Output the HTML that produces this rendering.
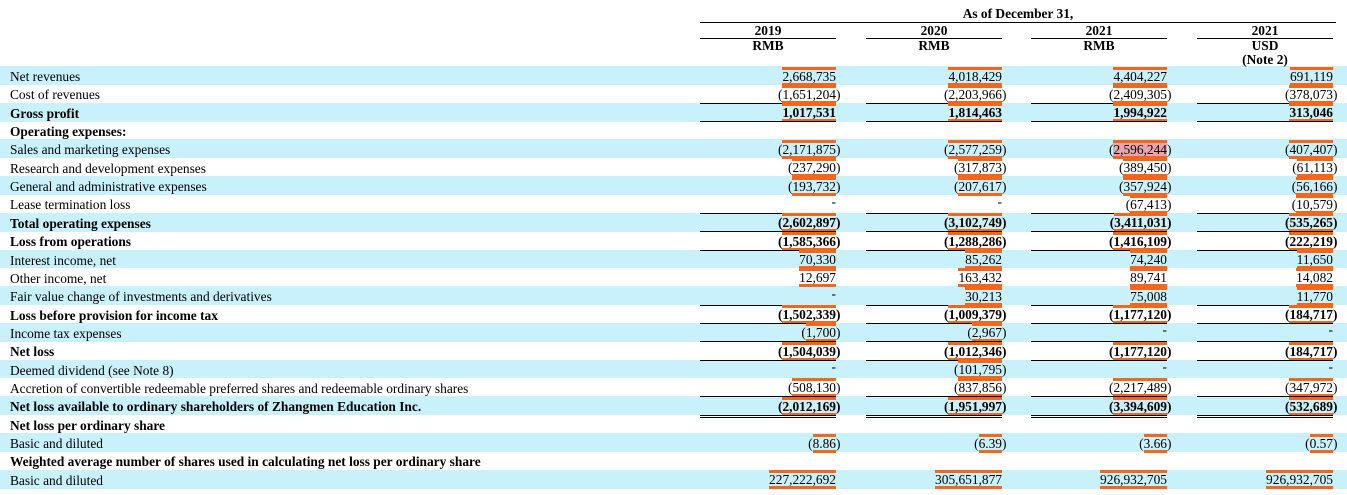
<!DOCTYPE html>
<html><head><meta charset="utf-8"><style>
body{margin:0;width:1347px;height:495px;background:#fff;position:relative;overflow:hidden;font-family:"Liberation Serif",serif;font-size:13.4px;color:#000}
.band{position:absolute;left:0;width:1347px;background:#c9f1fb}
.lab{position:absolute;left:10px;white-space:nowrap}
.n{position:absolute;white-space:nowrap;text-align:right;width:200px;line-height:13px}
.n span{border-top:3px solid #f4661b;border-bottom:3px solid #f4661b;line-height:13px;display:inline-block}
.n span.p{border:none}
.n span.pk{background:#eaa5ac}
.hl{position:absolute;height:1px;background:#000}
.h{position:absolute;font-weight:bold;text-align:center;width:136px;line-height:14px}
</style></head><body>
<div id="c"></div>
<div class="h" style="left:700px;width:636px;top:7px">As of December 31,</div>
<div class="hl" style="left:700px;width:636px;top:22px"></div>
<div class="h" style="left:700px;top:24px">2019</div>
<div class="h" style="left:866px;top:24px">2020</div>
<div class="h" style="left:1031px;top:24px">2021</div>
<div class="h" style="left:1197px;top:24px">2021</div>
<div class="h" style="left:700px;top:39px">RMB</div>
<div class="h" style="left:866px;top:39px">RMB</div>
<div class="h" style="left:1031px;top:39px">RMB</div>
<div class="h" style="left:1197px;top:39px">USD<br>(Note 2)</div>
<div class="hl" style="left:700px;width:136px;top:38px"></div>
<div class="hl" style="left:866px;width:136px;top:38px"></div>
<div class="hl" style="left:1031px;width:136px;top:38px"></div>
<div class="hl" style="left:1197px;width:136px;top:38px"></div>
<script>
const rows=[
["Net revenues",0,["2,668,735","4,018,429","4,404,227","691,119"]],
["Cost of revenues",0,["(1,651,204)","(2,203,966)","(2,409,305)","(378,073)"]],
["Gross profit",1,["1,017,531","1,814,463","1,994,922","313,046"]],
["Operating expenses:",1,null],
["Sales and marketing expenses",0,["(2,171,875)","(2,577,259)","(2,596,244)","(407,407)"]],
["Research and development expenses",0,["(237,290)","(317,873)","(389,450)","(61,113)"]],
["General and administrative expenses",0,["(193,732)","(207,617)","(357,924)","(56,166)"]],
["Lease termination loss",0,["-","-","(67,413)","(10,579)"]],
["Total operating expenses",1,["(2,602,897)","(3,102,749)","(3,411,031)","(535,265)"]],
["Loss from operations",1,["(1,585,366)","(1,288,286)","(1,416,109)","(222,219)"]],
["Interest income, net",0,["70,330","85,262","74,240","11,650"]],
["Other income, net",0,["12,697","163,432","89,741","14,082"]],
["Fair value change of investments and derivatives",0,["-","30,213","75,008","11,770"]],
["Loss before provision for income tax",1,["(1,502,339)","(1,009,379)","(1,177,120)","(184,717)"]],
["Income tax expenses",0,["(1,700)","(2,967)","-","-"]],
["Net loss",1,["(1,504,039)","(1,012,346)","(1,177,120)","(184,717)"]],
["Deemed dividend (see Note 8)",0,["-","(101,795)","-","-"]],
["Accretion of convertible redeemable preferred shares and redeemable ordinary shares",0,["(508,130)","(837,856)","(2,217,489)","(347,972)"]],
["Net loss available to ordinary shareholders of Zhangmen Education Inc.",1,["(2,012,169)","(1,951,997)","(3,394,609)","(532,689)"]],
["Net loss per ordinary share",1,null],
["Basic and diluted",0,["(8.86)","(6.39)","(3.66)","(0.57)"]],
["Weighted average number of shares used in calculating net loss per ordinary share",1,null],
["Basic and diluted",0,["227,222,692","305,651,877","926,932,705","926,932,705"]]];
const lines=[1,2,7,8,9,12,13,14,15,17];
const R=[836,1002,1167,1333],L=[700,866,1031,1197];
let h="";const T=66,H=18.35;
rows.forEach((r,i)=>{const y=T+i*H;
if(i%2==0)h+=`<div class="band" style="top:${y}px;height:${H+0.5}px"></div>`;});
rows.forEach((r,i)=>{const y=T+i*H;
h+=`<div class="lab" style="top:${y+3}px;${r[1]?'font-weight:bold':''}">${r[0]}</div>`;
if(r[2])r[2].forEach((v,k)=>{let inner,close="";const pk=(i==4&&k==2)?' class="pk"':'';
if(v=="-"){inner=`<span class="p">-</span>`}
else if(v[0]=="("){inner=`(<span${pk}>${v.slice(1,-1)}</span>`;close=")"}
else inner=`<span>${v}</span>`;
h+=`<div class="n" style="left:${R[k]-200}px;top:${y+0.5}px;${r[1]?'font-weight:bold':''}">${inner}<span class="p" style="position:absolute;left:200px;top:3px">${close}</span></div>`;});
if(lines.includes(i))L.forEach(x=>h+=`<div class="hl" style="left:${x}px;width:136px;top:${Math.round(y+H)}px"></div>`);
if(i==18)L.forEach(x=>{h+=`<div class="hl" style="left:${x}px;width:136px;top:${Math.round(y+H)}px"></div><div class="hl" style="left:${x}px;width:136px;top:${Math.round(y+H)+2}px"></div>`});
});
document.getElementById("c").innerHTML=h;
</script>
</body></html>
